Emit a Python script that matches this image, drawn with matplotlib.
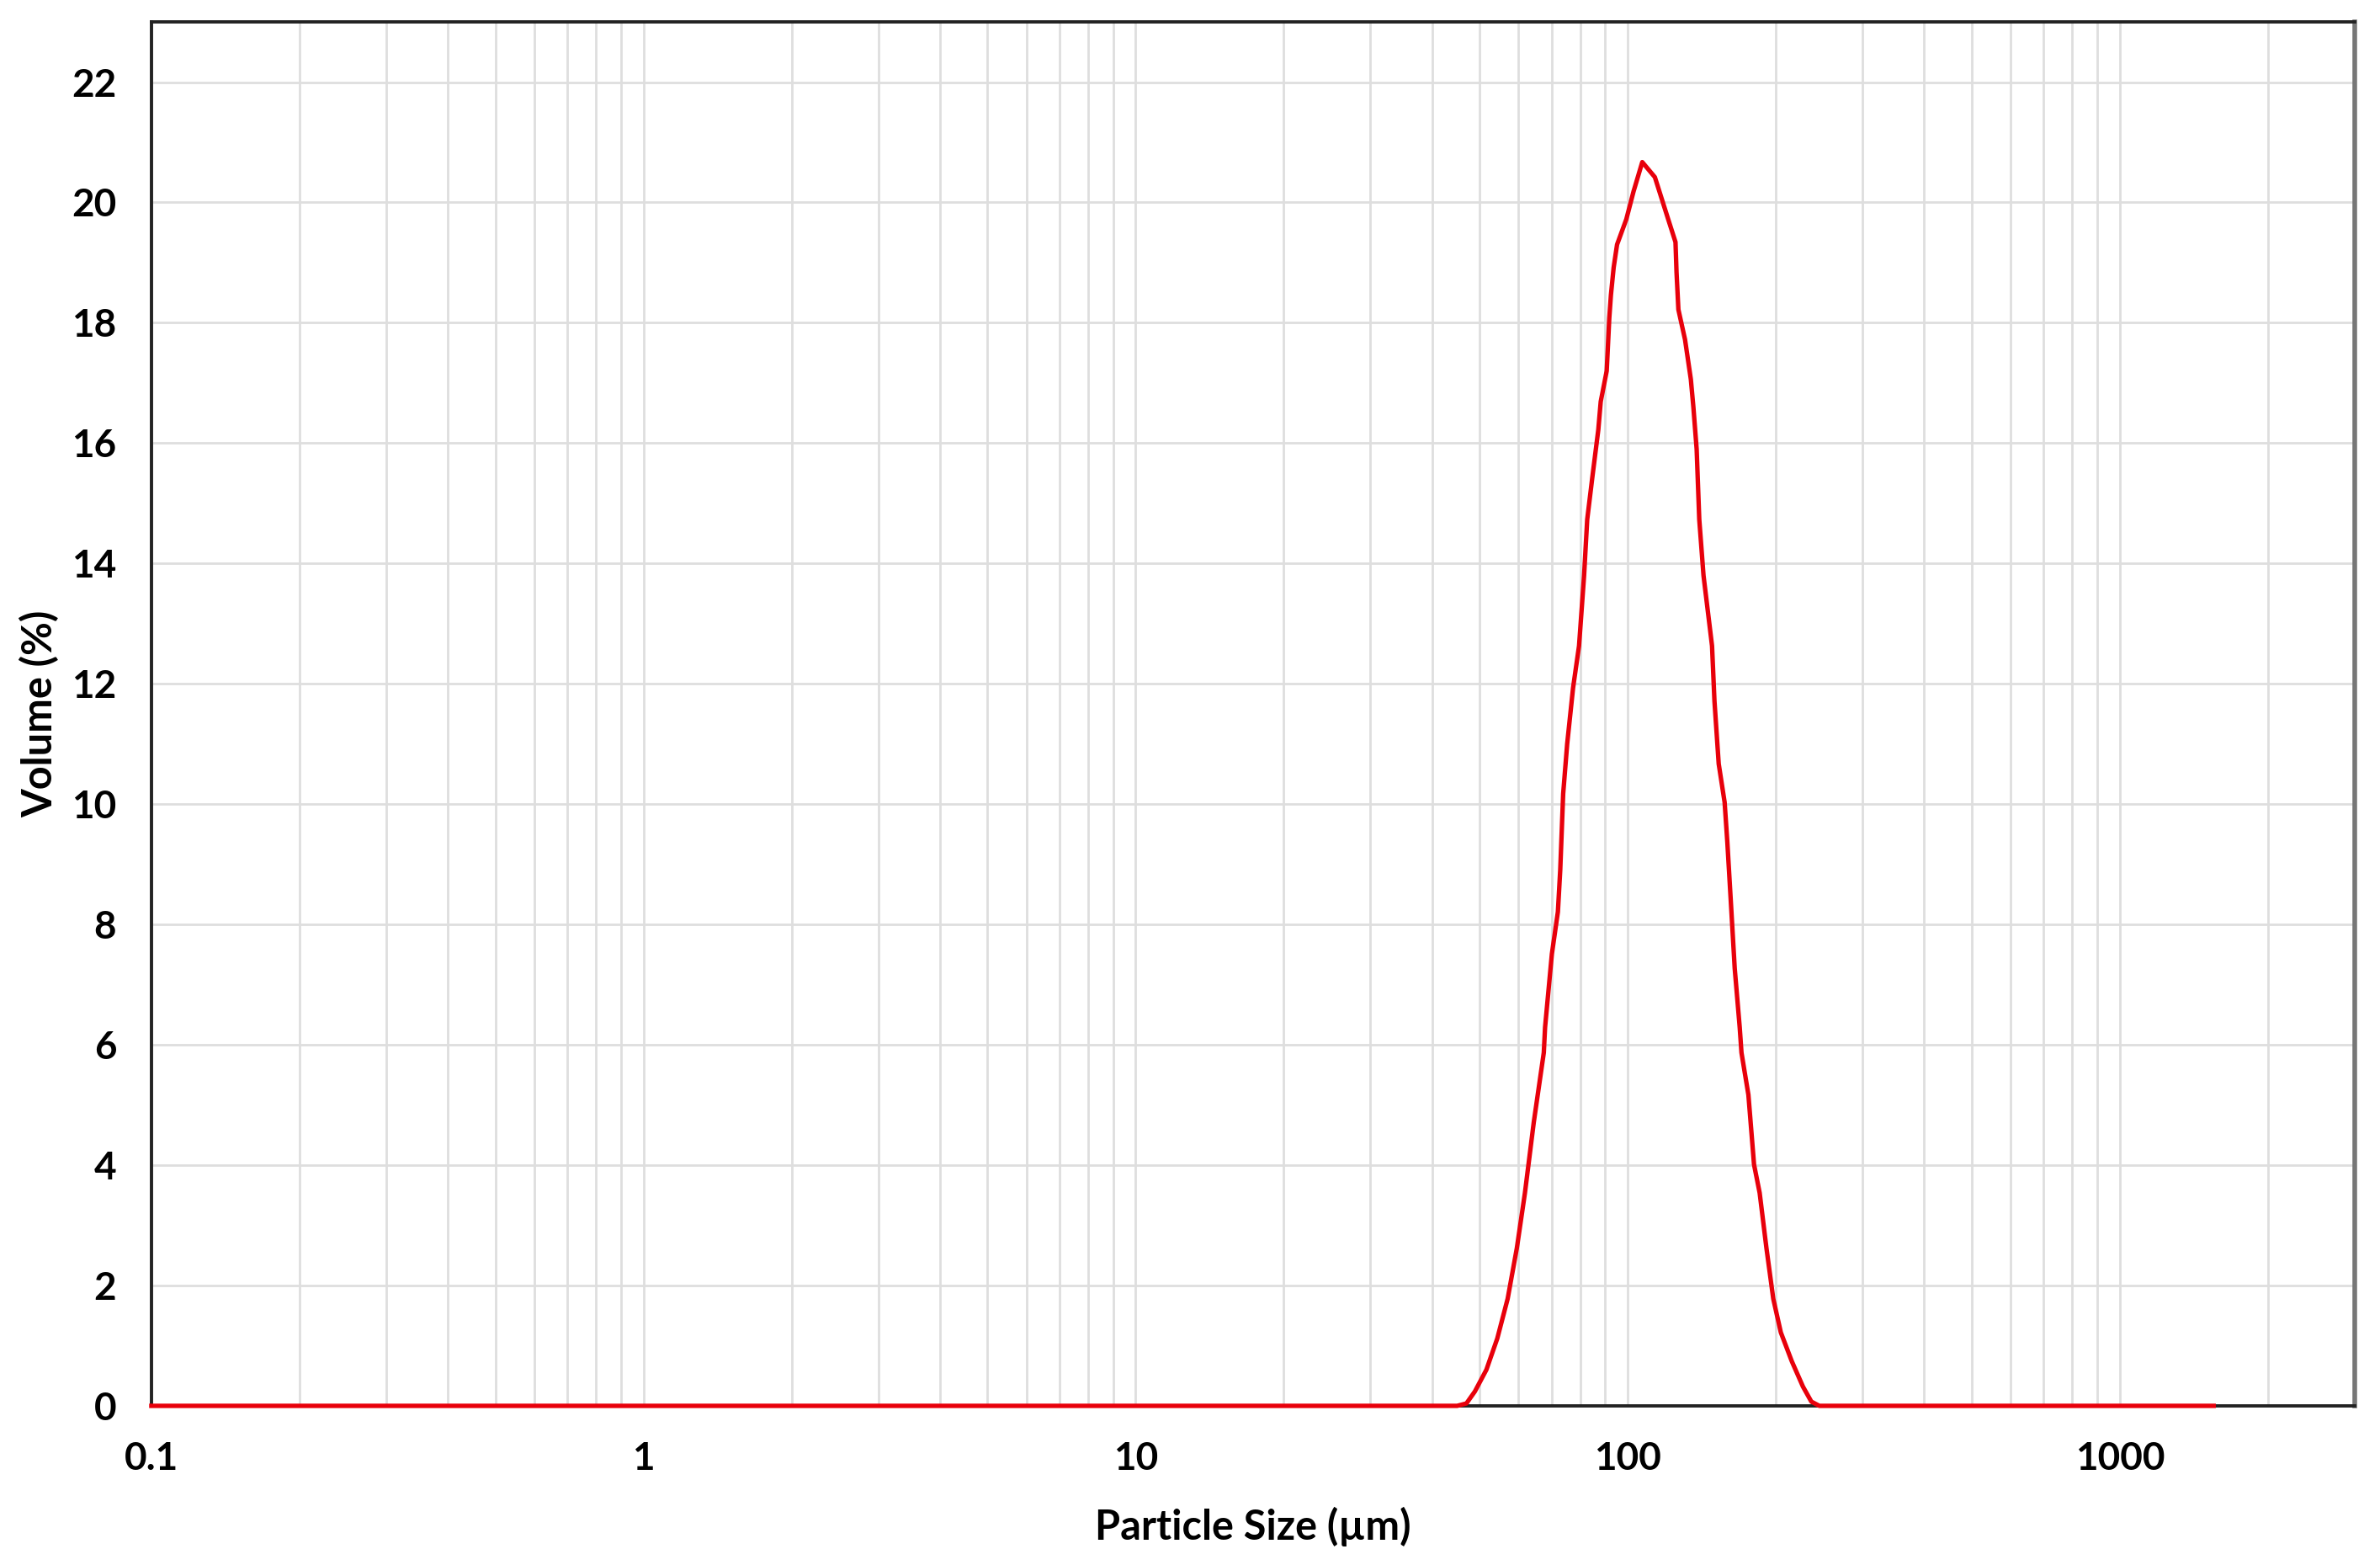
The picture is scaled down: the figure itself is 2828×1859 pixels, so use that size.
import numpy as np
import matplotlib
matplotlib.use("Agg")
import matplotlib.pyplot as plt
from matplotlib.ticker import LogLocator, NullFormatter

# particle size distribution
size_um = [0.1, 45, 47, 48.9, 51.6, 54.3, 57, 59.5, 61.8, 64.4, 67.5, 67.9,
           70.1, 72.1, 72.9, 73.9, 75.3, 77.4, 79.6, 81.5, 82.7, 84.7, 87.1,
           88.1, 90.6, 91.7, 92.4, 93.6, 95.1, 99.3, 102.7, 107,
           113.5, 120.8, 125, 125.6, 126.7, 130.7, 134.3, 135.9, 138, 139.7,
           142.5, 148.3, 150, 153, 157.3, 159.3, 161.8, 164.9, 168.8, 170.2,
           175.8, 180.5, 185.3, 191.3, 197.5, 204.6, 215.4, 226.9, 236, 245,
           1550]
volume_pct = [0, 0, 0.04, 0.24, 0.6, 1.12, 1.78, 2.62, 3.54, 4.71, 5.87, 6.29,
              7.51, 8.21, 8.91, 10.17, 11.0, 11.93, 12.63, 13.8, 14.73, 15.43, 16.22,
              16.69, 17.2, 18.08, 18.46, 18.92, 19.3, 19.72, 20.18, 20.67,
              20.42, 19.72, 19.34, 18.84, 18.22, 17.72, 17.06, 16.6, 15.9, 14.73,
              13.8, 12.63, 11.71, 10.67, 10.03, 9.37, 8.43, 7.27, 6.29, 5.87,
              5.17, 4.01, 3.54, 2.62, 1.78, 1.22, 0.74, 0.32, 0.07, 0,
              0]

x_ticks = [0.1, 1, 10, 100, 1000]
x_tick_labels = ["0.1", "1", "10", "100", "1000"]
y_ticks = list(range(0, 23, 2))

plt.rcParams["font.family"] = ["Lato", "DejaVu Sans"]
plt.rcParams["font.weight"] = "bold"

fig = plt.figure(figsize=(28.28, 18.59), dpi=100)
ax = fig.add_axes([0.0636, 0.1017, 0.9258, 0.8843])

ax.plot(size_um, volume_pct, color="#e8000b", linewidth=3.8, zorder=5, clip_on=False)

ax.set_xscale("log")
ax.set_xlim(0.1, 3000)
ax.set_ylim(0, 23)

ax.set_xticks(x_ticks)
ax.set_xticklabels(x_tick_labels)
ax.xaxis.set_minor_locator(LogLocator(base=10, subs=np.arange(2, 10)))
ax.xaxis.set_minor_formatter(NullFormatter())
ax.set_yticks(y_ticks)

ax.grid(True, which="both", axis="x", color="#dedede", linewidth=2.0)
ax.grid(True, which="major", axis="y", color="#dedede", linewidth=2.0)
ax.set_axisbelow(True)

ax.tick_params(axis="both", which="both", length=0, labelsize=33, pad=30)
for lab in ax.get_xticklabels() + ax.get_yticklabels():
    lab.set_fontweight("bold")

for side in ["left", "bottom", "top"]:
    ax.spines[side].set_color("#222222")
    ax.spines[side].set_linewidth(2.8)
ax.spines["right"].set_color("#777777")
ax.spines["right"].set_linewidth(4.0)

ax.set_xlabel("Particle Size (µm)", fontsize=35, fontweight="bold")
ax.set_ylabel("Volume (%)", fontsize=35, fontweight="bold")
ax.xaxis.set_label_coords(0.5, -0.073)
ax.yaxis.set_label_coords(-0.042, 0.5)

fig.savefig("out.png", dpi=100)
